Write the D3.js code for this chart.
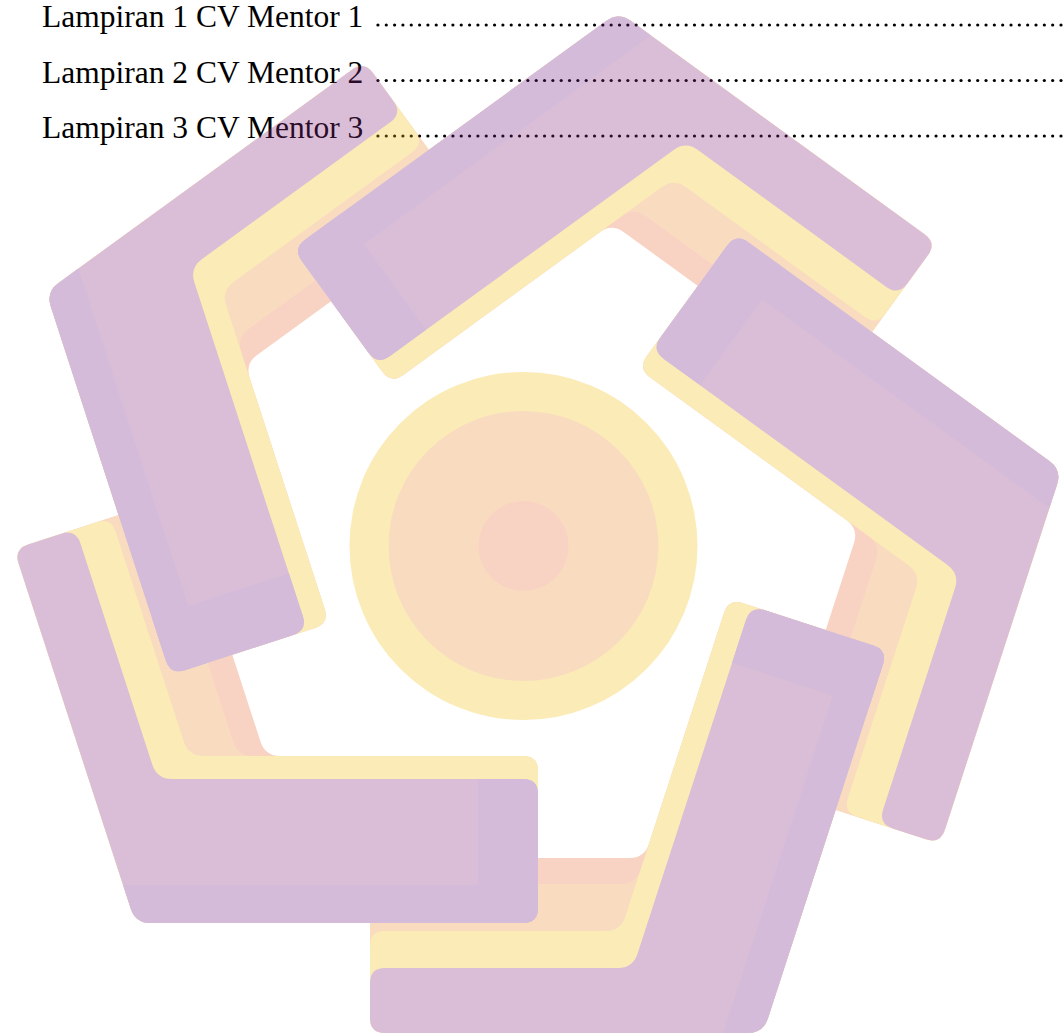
<!DOCTYPE html>
<html>
<head>
<meta charset="utf-8">
<script src="https://cdn.jsdelivr.net/npm/d3@7/dist/d3.min.js"></script>
<style>
  html, body { margin: 0; background: #fff; }
  svg { display: block; }
</style>
</head>
<body>
<svg id="page" width="1064" height="1036"></svg>
<script>
var entries = ['Lampiran 1 CV Mentor 1', 'Lampiran 2 CV Mentor 2', 'Lampiran 3 CV Mentor 3']
var armTurns = [4, 3, 2, 1, 0] // five arms, 72 degrees apart, drawn back to front
var ringRadii = [174, 135, 45]
var ringColors = ['#f5c012', '#ee8e2d', '#eb6c3a']

// bands of the L arm, as depth from the logo centre (outer leg / inner leg)
var armBands = [
  { dO: 312, dI: 210, color: '#eb6c3a' },
  { dO: 338, dI: 210, color: '#ee8e2d' },
  { dO: 385, dI: 210, color: '#f5c012' },
  { dO: 422, dI: 233, color: '#872a7d' }
]
var stripColor = '#732384'

var config = {
  cx: 525, cy: 546,
  rOuter: 487, rInner: 377, // outer edges of the two legs
  endOuter: 155, endInner: 13, // where the legs stop
  stripDepth: 339, capLength: 60,
  corner: 15,
  fontSize: 31.5, textX: 42,
  dotGap: 8.33, dotLast: 1061
}

var svg = d3.select('#page')

var deg = Math.PI / 180
var unit = function(a) { return [Math.cos(a * deg), Math.sin(a * deg)] }
var nO = unit(90), nI = unit(18), tO = unit(180), tI = unit(-72)

// point where p.a = da and p.b = db
var cross = function(a, da, b, db) {
  var det = a[0] * b[1] - a[1] * b[0]
  return [(da * b[1] - db * a[1]) / det, (a[0] * db - b[0] * da) / det]
}

var lShape = function(dO, dI) {
  var c = config
  return [
    cross(nO, c.rOuter, tO, c.endOuter),
    cross(nO, c.rOuter, nI, c.rInner),
    cross(nI, c.rInner, tI, c.endInner),
    cross(nI, dI, tI, c.endInner),
    cross(nI, dI, nO, dO),
    cross(nO, dO, tO, c.endOuter)
  ]
}

var strips = function() {
  var c = config
  return [
    { pts: [cross(nI, c.rInner, nO, c.rOuter), cross(nI, c.stripDepth, nO, c.rOuter),
            cross(nI, c.stripDepth, tI, c.endInner), cross(nI, c.rInner, tI, c.endInner)],
      radii: [c.corner, 0, 0, c.corner] },
    { pts: [cross(nI, c.rInner, tI, c.endInner), cross(nI, 233, tI, c.endInner),
            cross(nI, 233, tI, c.endInner - c.capLength), cross(nI, c.rInner, tI, c.endInner - c.capLength)],
      radii: [c.corner, c.corner, 0, 0] }
  ]
}

// polygon with softened corners, one radius per vertex
var rounded = function(pts, radii) {
  var path = d3.path()
  pts.forEach(function(p, i) {
    var r = Array.isArray(radii) ? radii[i] : radii
    var a = pts[(i + pts.length - 1) % pts.length], b = pts[(i + 1) % pts.length]
    var la = Math.hypot(a[0] - p[0], a[1] - p[1]), lb = Math.hypot(b[0] - p[0], b[1] - p[1])
    var ra = Math.min(r, la / 2), rb = Math.min(r, lb / 2)
    var p1 = [p[0] + (a[0] - p[0]) * ra / la, p[1] + (a[1] - p[1]) * ra / la]
    var p2 = [p[0] + (b[0] - p[0]) * rb / lb, p[1] + (b[1] - p[1]) * rb / lb]
    if (i === 0) path.moveTo(p1[0], p1[1])
    else path.lineTo(p1[0], p1[1])
    if (r > 0) path.quadraticCurveTo(p[0], p[1], p2[0], p2[1])
  })
  path.closePath()
  return path.toString()
}

// ---- text lines with dot leaders
var yLine = d3.scaleLinear().domain([0, entries.length - 1]).range([27, 138])

var rows = svg.append('g').selectAll('g.row').data(entries)
  .enter().append('g').classed('row', true)

rows.append('text')
  .attr('x', config.textX)
  .attr('y', function(d, i) { return yLine(i) })
  .attr('font-family', '"Liberation Serif", "Times New Roman", serif')
  .attr('font-size', config.fontSize)
  .attr('fill', '#000')
  .text(function(d) { return d })

rows.each(function(d, i) {
  var end = config.textX + this.querySelector('text').getComputedTextLength()
    , xs = []
  for (var x = config.dotLast; x > end + 7; x -= config.dotGap) xs.push(x)
  d3.select(this).selectAll('circle').data(xs)
    .enter().append('circle')
    .attr('cx', function(x) { return x })
    .attr('cy', yLine(i) - 2)
    .attr('r', 1.6)
    .attr('fill', '#000')
})

// ---- watermark logo, laid over the page
var logo = svg.append('g')
  .attr('opacity', 0.3)
  .attr('transform', 'translate(' + config.cx + ',' + config.cy + ')')

var drawArm = function(g) {
  g.selectAll('path.band').data(armBands)
    .enter().append('path').classed('band', true)
    .attr('d', function(d) { return rounded(lShape(d.dO, d.dI), config.corner) })
    .attr('fill', function(d) { return d.color })
  g.selectAll('path.strip').data(strips())
    .enter().append('path').classed('strip', true)
    .attr('d', function(d) { return rounded(d.pts, d.radii) })
    .attr('fill', stripColor)
}

var arms = logo.selectAll('g.arm').data(armTurns)
  .enter().append('g').classed('arm', true)
  .attr('transform', function(k) { return 'rotate(' + (-72 * k) + ')' })
arms.each(function() { drawArm(d3.select(this)) })

// the last arm's inner leg has to lie over the first arm's outer leg:
// redraw it, clipped to the outline of the arm drawn last
logo.append('clipPath').attr('id', 'lastArm')
  .attr('clipPathUnits', 'userSpaceOnUse')
  .append('polygon')
  .attr('points', lShape(armBands[0].dO, armBands[0].dI).map(function(p) { return p.join(',') }).join(' '))

logo.append('g').attr('clip-path', 'url(#lastArm)')
  .append('g').attr('transform', 'rotate(' + (-72 * armTurns[0]) + ')')
  .call(drawArm)

logo.selectAll('circle.ring').data(ringRadii)
  .enter().append('circle').classed('ring', true)
  .attr('cx', -1.5)
  .attr('cy', 0)
  .attr('r', function(r) { return r })
  .attr('fill', function(r, i) { return ringColors[i] })
</script>
</body>
</html>
